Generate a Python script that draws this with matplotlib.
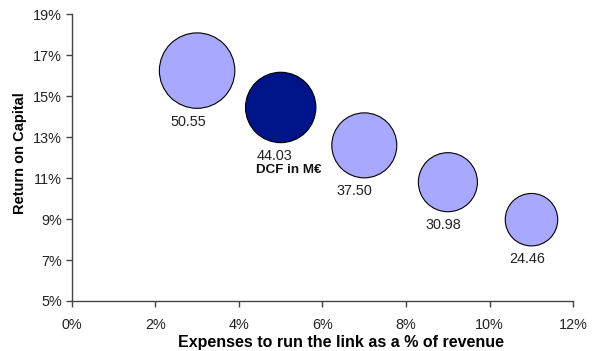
import numpy as np
import matplotlib
matplotlib.use("Agg")
import matplotlib.pyplot as plt
from matplotlib.ticker import FuncFormatter

plt.rcParams['font.family'] = ['Liberation Sans', 'DejaVu Sans']

# expense ratio (%), return on capital (%), DCF value (M€)
expenses = [3, 5, 7, 9, 11]
roc = [16.25, 14.45, 12.6, 10.8, 8.97]
dcf = [50.55, 44.03, 37.50, 30.98, 24.46]
highlight = 1  # base case

light = '#a8a8ff'
dark = '#001489'

fig = plt.figure(figsize=(5.95, 3.51), dpi=100)
ax = fig.add_axes([0.1205, 0.1425, 0.843, 0.8168])

# bubble area proportional to DCF
s_max = 2950
sizes = [s_max * v / max(dcf) for v in dcf]
colors = [dark if i == highlight else light for i in range(len(dcf))]
ax.scatter(expenses, roc, s=sizes, c=colors, edgecolors='black', linewidths=0.8, zorder=3)

# small horizontal nudges for the value labels (points)
label_dx = [-6.5, -4.5, -7, -3, -3]
for i, (x, y, v, s) in enumerate(zip(expenses, roc, dcf, sizes)):
    off = np.sqrt(s) / 2 + 9.5
    ax.annotate(f"{v:.2f}", (x, y), xytext=(label_dx[i], -off), textcoords='offset points',
                ha='center', va='center', fontsize=10.4, color='#222222')
    if i == highlight:
        ax.annotate("DCF in M€", (x, y), xytext=(6, -off - 10), textcoords='offset points',
                    ha='center', va='center', fontsize=9.6, fontweight='bold', color='#111111')

ax.set_xlim(0, 12)
ax.set_ylim(5, 19)
ax.set_xticks(np.arange(0, 13, 2))
ax.set_yticks(np.arange(5, 20, 2))
pct = FuncFormatter(lambda v, _: f"{v:.0f}%")
ax.xaxis.set_major_formatter(pct)
ax.yaxis.set_major_formatter(pct)

for side in ['top', 'right']:
    ax.spines[side].set_visible(False)
for side in ['left', 'bottom']:
    ax.spines[side].set_color('#444444')
    ax.spines[side].set_linewidth(1.0)
ax.tick_params(direction='out', length=4, width=1.0, color='#444444',
               labelsize=10.4, labelcolor='#222222')
ax.tick_params(axis='x', pad=8)
ax.tick_params(axis='y', pad=3)

ax.set_xlabel("Expenses to run the link as a % of revenue", fontsize=11.5,
              fontweight='bold', va='center')
ax.set_ylabel("Return on Capital", fontsize=10.5, fontweight='bold', va='center')
ax.xaxis.set_label_coords(0.537, -0.146)
ax.yaxis.set_label_coords(-0.103, 0.516)

fig.savefig("out.png", dpi=100)
